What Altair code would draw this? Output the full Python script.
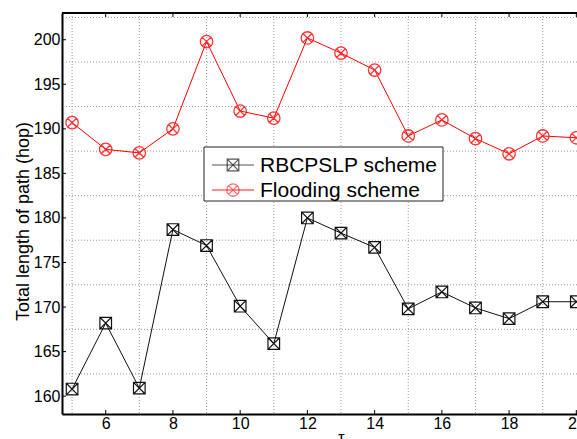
import altair as alt
import pandas as pd

# ---- data ----
tau = list(range(5, 21))
rbcpslp = [160.8, 168.2, 160.9, 178.7, 176.9, 170.1, 165.9, 180.0,
           178.3, 176.7, 169.8, 171.7, 169.9, 168.7, 170.6, 170.6]
flooding = [190.7, 187.7, 187.3, 190.0, 199.8, 192.0, 191.2, 200.2,
            198.5, 196.6, 189.2, 191.0, 188.9, 187.2, 189.2, 189.0]
series_names = ["RBCPSLP scheme", "Flooding scheme"]
x_tick_labels = [6, 8, 10, 12, 14, 16, 18, 20]
y_tick_labels = [160, 165, 170, 175, 180, 185, 190, 195, 200]
x_grid = [5, 7, 9, 11, 13, 15, 17, 19]
y_grid = [162.5, 167.5, 172.5, 177.5, 182.5, 187.5, 192.5, 197.5, 202.5]

W, H = 515, 401
X_DOM = [4.7, 20.02]
Y_DOM = [158, 203]
FONT = "Liberation Sans"

df = pd.DataFrame({
    "tau": tau * 2,
    "value": rbcpslp + flooding,
    "series": [series_names[0]] * len(tau) + [series_names[1]] * len(tau),
})

SQX = "M-1,-1L1,-1L1,1L-1,1Z M-1,-1L1,1 M-1,1L1,-1"
CIRX = "M-1,0A1,1,0,1,1,1,0A1,1,0,1,1,-1,0Z M-0.707,-0.707L0.707,0.707 M-0.707,0.707L0.707,-0.707"

xs = alt.Scale(domain=X_DOM, nice=False, zero=False)
ys = alt.Scale(domain=Y_DOM, nice=False, zero=False)

x_axis = alt.Axis(
    values=x_tick_labels, title="τ", titleFontSize=16, titleFontWeight="normal",
    titleX=279, titleY=28, titleBaseline="alphabetic", titleColor="black",
    labelFontSize=16, labelColor="black", labelPadding=1, labelFlush=False,
    ticks=False, grid=False, domainColor="black", domainWidth=2)
y_axis = alt.Axis(
    values=y_tick_labels, title="Total length of path (hop)", titleFontSize=18,
    titleFontWeight="normal", titleColor="black", titleX=-39, titleY=208,
    titleAngle=270, titleAlign="center", titleBaseline="middle",
    labelFontSize=16, labelColor="black", labelPadding=2,
    ticks=False, grid=False, domainColor="black", domainWidth=2)


def X(field):
    return alt.X(field, scale=xs, axis=x_axis)


def Y(field):
    return alt.Y(field, scale=ys, axis=y_axis)


gx = alt.Chart(pd.DataFrame({"tau": x_grid})).mark_rule(
    color="#9a9a9a", strokeDash=[1, 2], strokeWidth=1).encode(x=X("tau:Q"))
gy = alt.Chart(pd.DataFrame({"value": y_grid})).mark_rule(
    color="#9a9a9a", strokeDash=[1, 2], strokeWidth=1).encode(y=Y("value:Q"))

base_b = alt.Chart(df).transform_filter(alt.datum.series == series_names[0])
base_r = alt.Chart(df).transform_filter(alt.datum.series == series_names[1])

line_b = base_b.mark_line(color="#111111", strokeWidth=1).encode(x=X("tau:Q"), y=Y("value:Q"))
pts_b = base_b.mark_point(shape=SQX, filled=False, size=135, color="#111111",
                          strokeWidth=1.2, opacity=1).encode(x=X("tau:Q"), y=Y("value:Q"))
line_r = base_r.mark_line(color="#ff0000", strokeWidth=1).encode(x=X("tau:Q"), y=Y("value:Q"))
pts_r = base_r.mark_point(shape=CIRX, filled=False, size=155, color="#ff2020",
                          strokeWidth=1.3, opacity=0.9).encode(x=X("tau:Q"), y=Y("value:Q"))

one = pd.DataFrame({"k": [0]})
# inner tick marks
tick_top = alt.Chart(pd.DataFrame({"tau": x_tick_labels})).mark_rule(color="black").encode(
    x=X("tau:Q"), y=alt.value(0), y2=alt.value(4))
tick_bot = alt.Chart(pd.DataFrame({"tau": x_tick_labels})).mark_rule(color="black").encode(
    x=X("tau:Q"), y=alt.value(H), y2=alt.value(H - 4))
tick_left = alt.Chart(pd.DataFrame({"value": y_tick_labels})).mark_rule(color="black").encode(
    y=Y("value:Q"), x=alt.value(0), x2=alt.value(4))
top_border = alt.Chart(one).mark_rule(color="black", strokeWidth=2).encode(
    x=alt.value(0), x2=alt.value(W), y=alt.value(0))

# legend
leg_box = alt.Chart(one).mark_rect(fill="white", stroke="#222222", strokeWidth=1).encode(
    x=alt.value(142), x2=alt.value(381), y=alt.value(134), y2=alt.value(188))
leg_line_b = alt.Chart(one).mark_rule(color="#555555", strokeWidth=1.2).encode(
    x=alt.value(150), x2=alt.value(192), y=alt.value(152))
leg_pt_b = alt.Chart(one).mark_point(shape=SQX, filled=False, size=135, color="#111111",
                                     strokeWidth=1.2).encode(x=alt.value(171), y=alt.value(152))
leg_txt_b = alt.Chart(one).mark_text(align="left", baseline="middle", fontSize=21,
                                     color="black").encode(
    x=alt.value(198), y=alt.value(153), text=alt.value(series_names[0]))
leg_line_r = alt.Chart(one).mark_rule(color="#ff6666", strokeWidth=1.5).encode(
    x=alt.value(150), x2=alt.value(192), y=alt.value(177))
leg_pt_r = alt.Chart(one).mark_point(shape=CIRX, filled=False, size=155, color="#ff3030",
                                     strokeWidth=1.3).encode(x=alt.value(171), y=alt.value(177))
leg_txt_r = alt.Chart(one).mark_text(align="left", baseline="middle", fontSize=21,
                                     color="black").encode(
    x=alt.value(198), y=alt.value(178), text=alt.value(series_names[1]))

chart = alt.layer(
    gx, gy, line_b, line_r, pts_r, pts_b, tick_top, tick_bot, tick_left, top_border,
    leg_box, leg_line_b, leg_pt_b, leg_txt_b, leg_line_r, leg_pt_r, leg_txt_r,
).properties(
    width=W, height=H,
    autosize=alt.AutoSizeParams(type="none"),
    padding={"left": 62, "top": 13, "right": 0, "bottom": 25},
    background="white",
).configure(font=FONT).configure_view(stroke=None)

chart.save("out.html", embed_options={"renderer": "svg", "actions": False})
